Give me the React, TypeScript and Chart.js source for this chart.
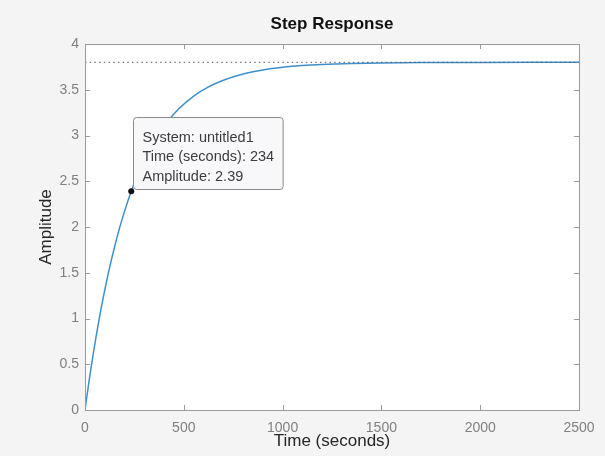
import React, { useEffect, useRef } from "react";
import { Chart, registerables } from "chart.js";

Chart.register(...registerables);

// ---- data ----
const timeSeconds = [0, 20, 40, 60, 80, 100, 125, 150, 175, 200, 234, 275, 325, 375, 425, 475, 550, 625, 700, 800, 900, 1000, 1100, 1200, 1350, 1500, 1700, 2000, 2500];
const amplitude = [0, 0.309, 0.593, 0.852, 1.094, 1.311, 1.562, 1.786, 1.99, 2.171, 2.39, 2.614, 2.842, 3.024, 3.172, 3.292, 3.431, 3.531, 3.604, 3.672, 3.716, 3.745, 3.764, 3.776, 3.787, 3.793, 3.797, 3.799, 3.8];
const steadyStateTime = [0, 2500];
const steadyStateValue = [3.8, 3.8];
const xTicks = [0, 500, 1000, 1500, 2000, 2500];
const yTicks = [0, 0.5, 1, 1.5, 2, 2.5, 3, 3.5, 4];
const tipTime = 234;
const tipAmplitude = 2.39;
const tipLines = ["System: untitled1", "Time (seconds): 234", "Amplitude: 2.39"];
const chartTitle = "Step Response";
const xTitle = "Time (seconds)";
const yTitle = "Amplitude";

const FONT = "'Liberation Sans', Arial, Helvetica, sans-serif";

const frame = {
  id: "frame",
  beforeDraw(chart: any) {
    const { ctx, chartArea: a } = chart;
    ctx.save();
    ctx.fillStyle = "#f4f4f4";
    ctx.fillRect(0, 0, chart.width, chart.height);
    ctx.fillStyle = "#ffffff";
    ctx.fillRect(a.left, a.top, a.right - a.left, a.bottom - a.top);
    ctx.restore();
  },
  afterDatasetsDraw(chart: any) {
    const { ctx, chartArea: a, scales } = chart;
    const xs = scales.x;
    const ys = scales.y;
    ctx.save();
    // box
    ctx.strokeStyle = "#9a9a9a";
    ctx.lineWidth = 1;
    ctx.strokeRect(Math.round(a.left) + 0.5, Math.round(a.top) + 0.5, Math.round(a.right - a.left), Math.round(a.bottom - a.top));
    // inward ticks
    const tl = 5;
    ctx.beginPath();
    xTicks.forEach((v) => {
      const px = Math.round(xs.getPixelForValue(v)) + 0.5;
      ctx.moveTo(px, a.bottom);
      ctx.lineTo(px, a.bottom - tl);
      ctx.moveTo(px, a.top);
      ctx.lineTo(px, a.top + tl);
    });
    yTicks.forEach((v) => {
      const py = Math.round(ys.getPixelForValue(v)) + 0.5;
      ctx.moveTo(a.left, py);
      ctx.lineTo(a.left + tl, py);
      ctx.moveTo(a.right, py);
      ctx.lineTo(a.right - tl, py);
    });
    ctx.stroke();

    // title
    ctx.fillStyle = "#111111";
    ctx.font = `bold 17px ${FONT}`;
    ctx.textAlign = "center";
    ctx.textBaseline = "alphabetic";
    ctx.fillText(chartTitle, (a.left + a.right) / 2, 29);

    // data tip
    const mx = xs.getPixelForValue(tipTime);
    const my = ys.getPixelForValue(tipAmplitude);
    ctx.font = `14.5px ${FONT}`;
    const w = Math.max(...tipLines.map((t) => ctx.measureText(t).width)) + 18;
    const h = 72;
    const bx = Math.round(mx) + 2.5;
    const by = Math.round(my) - 1.5 - h;
    const r = 3;
    ctx.beginPath();
    ctx.moveTo(bx + r, by);
    ctx.lineTo(bx + w - r, by);
    ctx.quadraticCurveTo(bx + w, by, bx + w, by + r);
    ctx.lineTo(bx + w, by + h - r);
    ctx.quadraticCurveTo(bx + w, by + h, bx + w - r, by + h);
    ctx.lineTo(bx + r, by + h);
    ctx.quadraticCurveTo(bx, by + h, bx, by + h - r);
    ctx.lineTo(bx, by + r);
    ctx.quadraticCurveTo(bx, by, bx + r, by);
    ctx.closePath();
    ctx.fillStyle = "#f8f8fb";
    ctx.fill();
    ctx.strokeStyle = "#8a8a8a";
    ctx.stroke();
    ctx.fillStyle = "#3c3c3c";
    ctx.textAlign = "left";
    tipLines.forEach((t, i) => {
      ctx.fillText(t, bx + 9, by + 24 + i * 19.7);
    });
    // marker
    ctx.beginPath();
    ctx.arc(mx, my, 3, 0, Math.PI * 2);
    ctx.fillStyle = "#111111";
    ctx.fill();
    ctx.restore();
  },
};

export default function App() {
  const ref = useRef<HTMLCanvasElement | null>(null);
  useEffect(() => {
    if (!ref.current) return;
    const chart = new Chart(ref.current, {
      type: "line",
      data: {
        datasets: [
          {
            data: steadyStateTime.map((t, i) => ({ x: t, y: steadyStateValue[i] })),
            borderColor: "#555555",
            borderWidth: 1,
            borderDash: [1.5, 3.2],
            pointRadius: 0,
          },
          {
            data: timeSeconds.map((t, i) => ({ x: t, y: amplitude[i] })),
            borderColor: "#3d8fcc",
            borderWidth: 1.5,
            pointRadius: 0,
            cubicInterpolationMode: "monotone",
          },
        ],
      },
      options: {
        animation: false,
        responsive: false,
        devicePixelRatio: 1,
        layout: { padding: { left: 0, top: 44, right: 26, bottom: 0 } },
        plugins: { legend: { display: false }, tooltip: { enabled: false }, title: { display: false } },
        scales: {
          x: {
            type: "linear",
            min: 0,
            max: 2500,
            grid: { display: false, drawTicks: false },
            border: { display: false },
            afterFit: (s: any) => {
              s.height = 46;
            },
            afterBuildTicks: (s: any) => {
              s.ticks = xTicks.map((v) => ({ value: v }));
            },
            ticks: {
              padding: 10,
              color: "#808080",
              font: { family: FONT, size: 14 },
              maxRotation: 0,
              autoSkip: false,
              callback: (v: any) => String(v),
            },
            title: {
              display: true,
              text: xTitle,
              color: "#262626",
              font: { family: FONT, size: 17 },
              padding: { top: 0, bottom: 4 },
            },
          },
          y: {
            type: "linear",
            min: 0,
            max: 4,
            grid: { display: false, drawTicks: false },
            border: { display: false },
            afterFit: (s: any) => {
              s.width = 85;
            },
            afterBuildTicks: (s: any) => {
              s.ticks = yTicks.map((v) => ({ value: v }));
            },
            ticks: {
              padding: 6,
              color: "#808080",
              font: { family: FONT, size: 14 },
              autoSkip: false,
              callback: (v: any) => String(v),
            },
            title: {
              display: true,
              text: yTitle,
              color: "#262626",
              font: { family: FONT, size: 17 },
              padding: { top: 36, bottom: 0 },
            },
          },
        },
      },
      plugins: [frame],
    } as any);
    return () => chart.destroy();
  }, []);
  return (
    <div style={{ position: "absolute", left: 0, top: 0, width: 605, height: 456 }}>
      <canvas ref={ref} width={605} height={456} style={{ display: "block" }} />
    </div>
  );
}
